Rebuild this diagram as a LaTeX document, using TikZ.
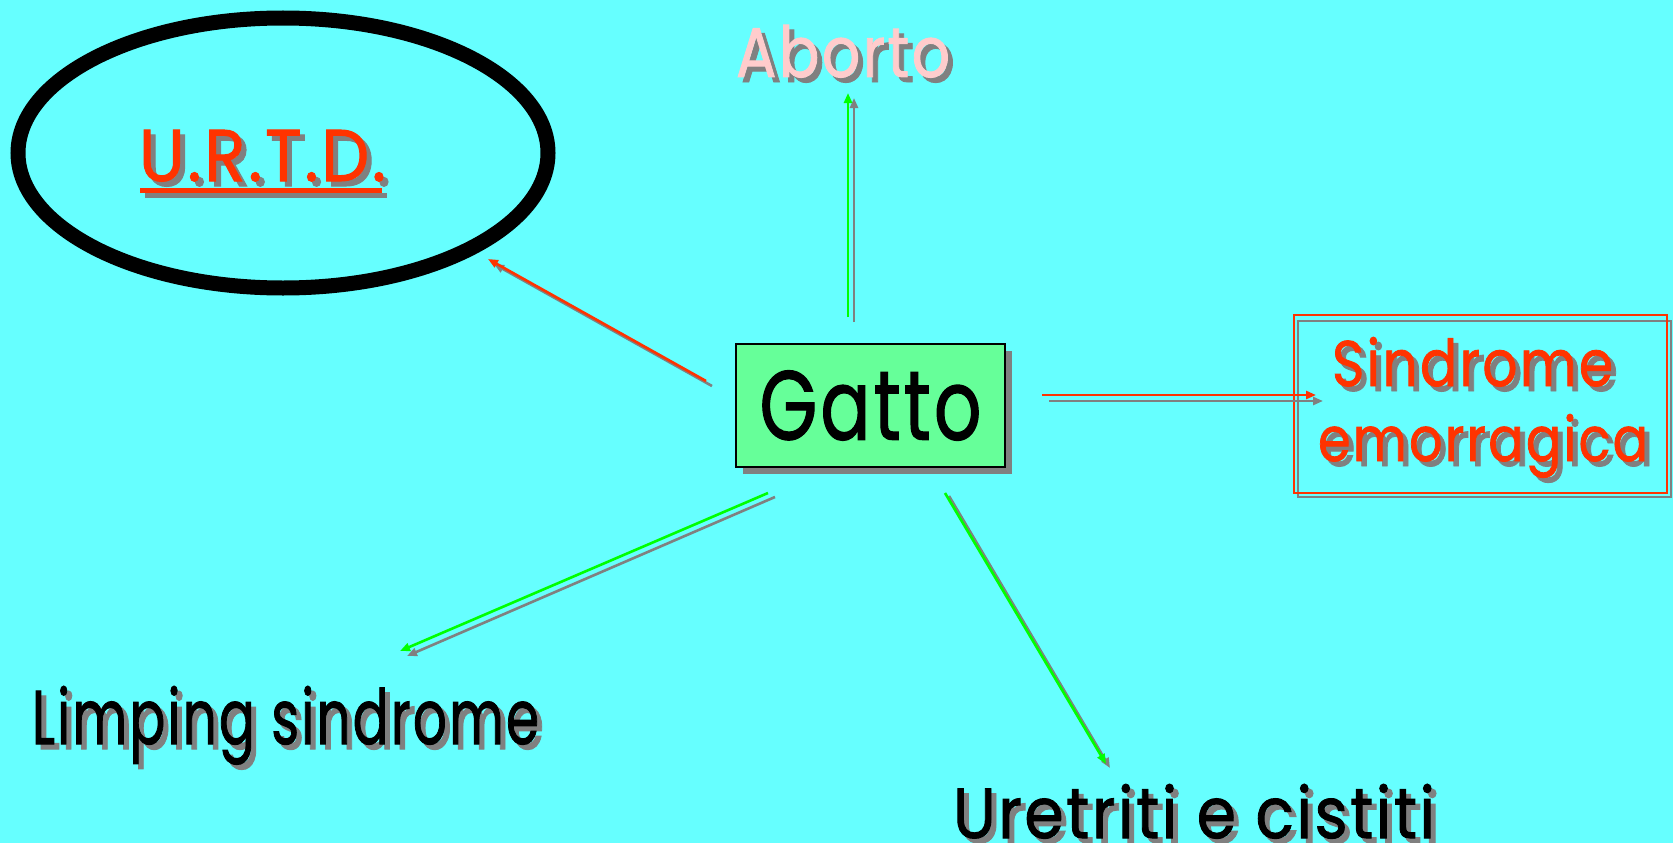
\documentclass[tikz,border=0pt]{standalone}
\usepackage{fontspec}
\setmainfont{Poppins}[FakeBold=1.4,AutoFakeBold=1.4]
\usetikzlibrary{arrows.meta,shapes.geometric}
\definecolor{bg}{HTML}{66FFFF}
\definecolor{rd}{HTML}{FF3300}
\definecolor{gr}{HTML}{00FF00}
\definecolor{sh}{HTML}{808080}
\definecolor{pk}{HTML}{FFCCCC}
\definecolor{bx}{HTML}{66FF99}
\newcommand\fitwh[3]{\resizebox{#1pt}{#2pt}{\addfontfeatures{LetterSpace=4}#3}}
\begin{document}
\begin{tikzpicture}[x=1pt,y=-1pt,
  lbl/.style={anchor=base west,inner sep=0pt,outer sep=0pt},
  shd/.style={lbl,text=sh},
  con/.style={line width=2.6pt,-{Triangle[length=10pt,width=8pt]}},
  conshd/.style={con,draw=sh},
]
\fill[bg] (0,0) rectangle (1673,843);
\useasboundingbox (0,0) rectangle (1673,843);

% U.R.T.D. ellipse
\node[ellipse,draw=black,line width=15pt,minimum width=530pt,minimum height=270pt,inner sep=0pt] (ell) at (283,153) {};
\node[shd] (urtdS) at (144,186) {\fitwh{247}{51}{U.R.T.D.}};
\node[lbl,text=rd] (urtd) at (139,181) {\fitwh{247}{51}{U.R.T.D.}};
\fill[sh] (145,193) rectangle (387,198);
\fill[rd] (140,188) rectangle (382,193);

% Aborto
\node[shd] (abS) at (741,82) {\fitwh{214}{52}{Aborto}};
\node[lbl,text=pk] (ab) at (736,77) {\fitwh{214}{52}{Aborto}};

% Gatto
\fill[sh] (743,351) rectangle (1012,474);
\node[draw=black,line width=1.6pt,fill=bx,minimum width=269pt,minimum height=123pt,inner sep=0pt] (gatto) at (870.5,405.5) {\fitwh{222}{69}{Gatto}};

% Sindrome emorragica
\draw[sh,line width=2.6pt] (1298,321) rectangle (1671,497);
\draw[rd,line width=2.6pt] (1294,315) rectangle (1667,493);
\node[shd] (sinS) at (1337,391) {\fitwh{281}{49}{Sindrome}};
\node[lbl,text=rd] (sin) at (1332,386) {\fitwh{281}{49}{Sindrome}};
\node[shd] (emoS) at (1323,466) {\fitwh{330}{47}{emorragica}};
\node[lbl,text=rd] (emo) at (1318,461) {\fitwh{330}{47}{emorragica}};

% Limping sindrome
\node[shd] (limS) at (37,749) {\fitwh{507}{58}{Limping sindrome}};
\node[lbl,text=black] (lim) at (32,744) {\fitwh{507}{58}{Limping sindrome}};

% Uretriti e cistiti
\node[shd] (uteS) at (958,843) {\fitwh{482}{54}{Uretriti e cistiti}};
\node[lbl,text=black] (ute) at (953,838) {\fitwh{482}{54}{Uretriti e cistiti}};

% connector end points
\coordinate (u1) at (706,381); \coordinate (u2) at (488,259);
\coordinate (u1s) at (712,386); \coordinate (u2s) at (494,264);
\coordinate (a1) at (848,317); \coordinate (a2) at (848,93);
\coordinate (a1s) at (854,322); \coordinate (a2s) at (854,98);
\coordinate (s1) at (1042,395); \coordinate (s2) at (1316,395);
\coordinate (s1s) at (1049,401); \coordinate (s2s) at (1323,401);
\coordinate (l1) at (768,493); \coordinate (l2) at (400,651);
\coordinate (l1s) at (775,497); \coordinate (l2s) at (407,656);
\coordinate (r1) at (945,493); \coordinate (r2) at (1106,764);
\coordinate (r1s) at (949,496); \coordinate (r2s) at (1110,768);

\draw[conshd] (u1s) -- (u2s);
\draw[con,draw=rd,fill=rd] (u1) -- (u2);
\draw[conshd] (a1s) -- (a2s);
\draw[con,draw=gr] (a1) -- (a2);
\draw[conshd] (s1s) -- (s2s);
\draw[con,draw=rd] (s1) -- (s2);
\draw[conshd] (l1s) -- (l2s);
\draw[con,draw=gr] (l1) -- (l2);
\draw[conshd] (r1s) -- (r2s);
\draw[con,draw=gr] (r1) -- (r2);
\end{tikzpicture}
\end{document}
